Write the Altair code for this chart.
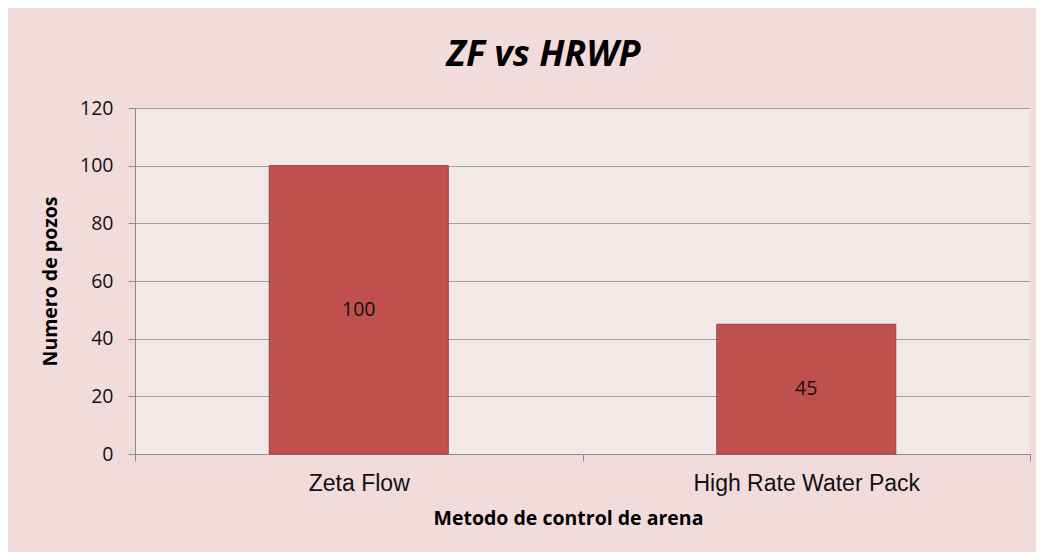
import altair as alt
import pandas as pd

categories = ["Zeta Flow", "High Rate Water Pack"]
values = [100, 45]
labels = ["100", "45"]
y_ticks = [0, 20, 40, 60, 80, 100, 120]

df = pd.DataFrame({"metodo": categories, "pozos": values, "label": labels})

x_enc = alt.X(
    "metodo:N",
    sort=categories,
    scale=alt.Scale(paddingInner=0, paddingOuter=0),
    axis=alt.Axis(
        title="Metodo de control de arena",
        labelAngle=0,
        labelFont="Liberation Sans",
        labelFontSize=23,
        labelColor="#111111",
        labelPadding=11,
        labelBaseline="top",
        labelLimit=500,
        tickSize=7,
        tickBand="extent",
        tickColor="#8c8c8c",
        domainColor="#8c8c8c",
        titleFont="Open Sans",
        titleFontSize=19.5,
        titleFontWeight="bold",
        titleColor="#000000",
        titleX=433,
        titleY=64,
        titleBaseline="middle",
        titleAnchor="start",
        titleAlign="center",
    ),
)

bars = alt.Chart(df).mark_bar(
    color="#c0504d", stroke="#9b403d", strokeWidth=1,
    width=alt.RelativeBandSize(0.4),
).encode(
    x=x_enc,
    y=alt.Y(
        "pozos:Q",
        scale=alt.Scale(domain=[0, 120], nice=False),
        axis=alt.Axis(
            title="Numero de pozos",
            values=y_ticks,
            grid=True,
            gridColor="#a0a0a0",
            gridWidth=1,
            tickSize=7,
            tickColor="#8c8c8c",
            domainColor="#8c8c8c",
            labelFont="Open Sans",
            labelFontSize=19.5,
            labelColor="#111111",
            labelPadding=15,
            titleFont="Open Sans",
            titleFontSize=19.5,
            titleFontWeight="bold",
            titleColor="#000000",
            titleAngle=-90,
            titleX=-75,
            titleY=173,
            titleBaseline="bottom",
            titleAlign="center",
        ),
    ),
)

text = alt.Chart(df).transform_calculate(
    mid="datum.pozos / 2"
).mark_text(
    font="Open Sans", fontSize=19.5, color="#111111", baseline="middle", align="center"
).encode(
    x=alt.X("metodo:N", sort=categories),
    y=alt.Y("mid:Q"),
    text="label:N",
)

chart = alt.layer(bars, text).properties(
    width=895,
    height=346,
    title=alt.TitleParams(
        "ZF vs HRWP",
        font="Open Sans",
        fontSize=36,
        fontWeight="bold",
        fontStyle="italic",
        color="#000000",
        anchor="middle",
        dx=-39,
        dy=35,
        offset=31,
        baseline="alphabetic",
    ),
    background="#f2dcdb",
    autosize=alt.AutoSizeParams(type="none"),
    padding={"left": 127, "top": 100, "right": 6, "bottom": 98},
).configure_view(
    fill="#f2e8e8", stroke=None
)

chart.save("out.html", embed_options={"renderer": "svg", "actions": False})
